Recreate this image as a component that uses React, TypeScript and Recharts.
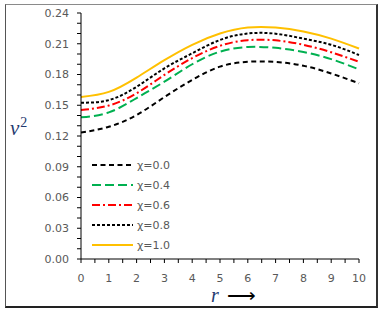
import { Legend, Line, LineChart, XAxis, YAxis } from "recharts";

// r values and v^2 for each χ
const rValues = [0, 1, 2, 3, 4, 5, 6, 7, 8, 9, 10];
const chi00 = [0.1233, 0.129, 0.1405, 0.158, 0.1747, 0.1877, 0.1924, 0.1922, 0.1886, 0.181, 0.1714];
const chi04 = [0.1383, 0.143, 0.157, 0.173, 0.19, 0.2023, 0.2068, 0.206, 0.202, 0.195, 0.185];
const chi06 = [0.1454, 0.1497, 0.1617, 0.1796, 0.196, 0.208, 0.2135, 0.2133, 0.209, 0.2017, 0.1924];
const chi08 = [0.1525, 0.155, 0.168, 0.186, 0.2007, 0.2137, 0.22, 0.2198, 0.215, 0.209, 0.199];
const chi10 = [0.158, 0.163, 0.177, 0.194, 0.209, 0.22, 0.2258, 0.2258, 0.222, 0.215, 0.2053];

const xTicks = [0, 0.5, 1, 1.5, 2, 2.5, 3, 3.5, 4, 4.5, 5, 5.5, 6, 6.5, 7, 7.5, 8, 8.5, 9, 9.5, 10];
const yTicks = [
  0, 0.01, 0.02, 0.03, 0.04, 0.05, 0.06, 0.07, 0.08, 0.09, 0.1, 0.11, 0.12,
  0.13, 0.14, 0.15, 0.16, 0.17, 0.18, 0.19, 0.2, 0.21, 0.22, 0.23, 0.24,
];

const series = [
  { key: "c00", name: "χ=0.0", values: chi00, color: "#000000", dash: "5 3.5" },
  { key: "c04", name: "χ=0.4", values: chi04, color: "#00B050", dash: "9 4" },
  { key: "c06", name: "χ=0.6", values: chi06, color: "#FF0000", dash: "8 3 2 3" },
  { key: "c08", name: "χ=0.8", values: chi08, color: "#000000", dash: "3 2" },
  { key: "c10", name: "χ=1.0", values: chi10, color: "#FFC000", dash: undefined },
];

const data = rValues.map((r, i) => {
  const row: Record<string, number> = { r };
  series.forEach((s) => {
    row[s.key] = s.values[i];
  });
  return row;
});

const FONT = "'DejaVu Sans', sans-serif";
const GRAY = "#595959";

function LegendBox() {
  return (
    <div style={{ fontFamily: FONT, fontSize: 11, color: GRAY }}>
      {series.map((s) => (
        <div key={s.key} style={{ display: "flex", alignItems: "center", height: 20 }}>
          <svg width={44} height={6}>
            <line
              x1={1}
              y1={3}
              x2={42}
              y2={3}
              stroke={s.color}
              strokeWidth={2}
              strokeDasharray={s.dash}
            />
          </svg>
          <span style={{ marginLeft: 2 }}>{s.name}</span>
        </div>
      ))}
    </div>
  );
}

export default function App() {
  return (
    <div style={{ position: "absolute", left: 0, top: 0, width: 382, height: 314, background: "#fff" }}>
      <div
        style={{
          position: "absolute",
          left: 5,
          top: 4,
          width: 370,
          height: 301,
          borderTop: "1px solid #8a8a8a",
          borderLeft: "1px solid #555",
          borderRight: "2px solid #333",
          borderBottom: "2px solid #222",
        }}
      />
      <LineChart
        width={382}
        height={314}
        data={data}
        margin={{ top: 13, right: 23, left: 41, bottom: 25 }}
        style={{ position: "absolute", left: 0, top: 0 }}
      >
        <XAxis
          dataKey="r"
          type="number"
          domain={[0, 10]}
          ticks={xTicks}
          interval={0}
          height={30}
          stroke="#000"
          tickSize={4}
          tickMargin={11}
          tick={{ fill: GRAY, fontSize: 11, fontFamily: FONT }}
          tickFormatter={(v: number) => (Number.isInteger(v) ? String(v) : "")}
        />
        <YAxis
          type="number"
          domain={[0, 0.24]}
          ticks={yTicks}
          interval={0}
          width={40}
          stroke="#000"
          tickSize={4}
          tickMargin={8}
          tick={{ fill: GRAY, fontSize: 11, fontFamily: FONT }}
          tickFormatter={(v: number) =>
            Math.round(v * 100) % 3 === 0 ? v.toFixed(2) : ""
          }
        />
        <Legend
          layout="horizontal"
          verticalAlign="middle"
          align="center"
          content={() => <LegendBox />}
          wrapperStyle={{ left: 91, top: 155, width: 110 }}
        />
        {series.map((s) => (
          <Line
            key={s.key}
            dataKey={s.key}
            name={s.name}
            type="natural"
            stroke={s.color}
            strokeWidth={2}
            strokeDasharray={s.dash}
            dot={false}
            isAnimationActive={false}
          />
        ))}
      </LineChart>
      <div
        style={{
          position: "absolute",
          left: 10,
          top: 116,
          fontFamily: "'Liberation Serif', serif",
          fontStyle: "italic",
          fontSize: 21,
          lineHeight: "24px",
          color: "#1F3A70",
        }}
      >
        v<span style={{ fontSize: 14, fontStyle: "normal", position: "relative", top: -8, marginLeft: 1 }}>2</span>
      </div>
      <div
        style={{
          position: "absolute",
          left: 211,
          top: 287,
          fontFamily: "'Liberation Serif', serif",
          fontSize: 20,
          lineHeight: "16px",
          color: "#1F3A70",
          whiteSpace: "nowrap",
        }}
      >
        <span style={{ fontStyle: "italic" }}>r</span>
        <span style={{ color: "#000", marginLeft: 8 }}>⟶</span>
      </div>
    </div>
  );
}
